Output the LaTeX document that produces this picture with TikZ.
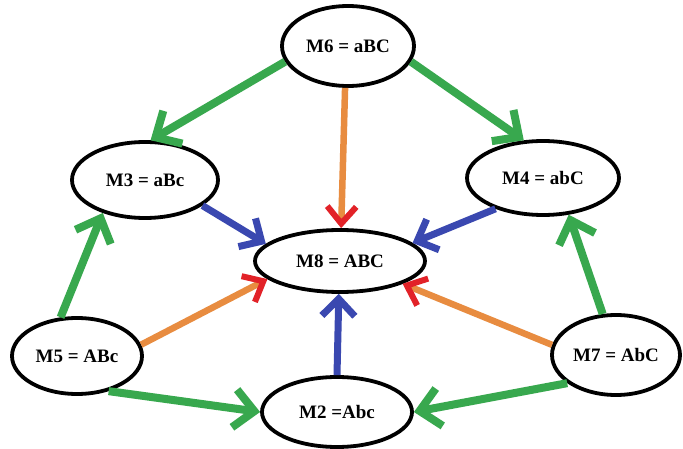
\documentclass[tikz,border=0pt]{standalone}
\usepackage{fontspec}
\setmainfont{Liberation Serif}
\usetikzlibrary{shapes.geometric,arrows.meta}
\definecolor{edgegreen}{RGB}{56,168,78}
\definecolor{edgeorange}{RGB}{232,140,64}
\definecolor{edgeblue}{RGB}{58,72,176}
\definecolor{headred}{RGB}{226,34,40}
\tikzset{
  state/.style={draw=black, line width=3.8pt, ellipse, fill=white, inner sep=0pt,
    font=\bfseries\fontsize{19}{21}\selectfont},
  greenflow/.style={line width=8pt, draw=edgegreen,
    -{Straight Barb[length=20pt, width=38pt, line width=8pt]}},
  blueflow/.style={line width=7pt, draw=edgeblue,
    -{Straight Barb[length=17pt, width=33pt, line width=7pt]}},
  orangeflow/.style={line width=6.5pt, draw=edgeorange,
    -{Straight Barb[length=17pt, width=29pt, line width=6pt, color=headred]}},
}
\begin{document}
\begin{tikzpicture}[x=1pt, y=-1pt]
  \useasboundingbox[fill=white] (0,0) rectangle (683,449);

  % states
  \node[state, minimum width=132pt, minimum height=80pt] (m6) at (348,46) {M6 = aBC};
  \node[state, minimum width=146pt, minimum height=76pt] (m3) at (145,180) {M3 = aBc};
  \node[state, minimum width=152pt, minimum height=74pt] (m4) at (543,178) {M4 = abC};
  \node[state, minimum width=170pt, minimum height=62pt] (m8) at (340,261) {M8 = ABC};
  \node[state, minimum width=130pt, minimum height=76pt] (m5) at (77,356) {M5 = ABc};
  \node[state, minimum width=150pt, minimum height=70pt] (m2) at (337,412) {M2 =Abc};
  \node[state, minimum width=128pt, minimum height=80pt] (m7) at (616,355) {M7 = AbC};

  % transitions
  \draw[greenflow]  (m6.194) -- (m3.82);
  \draw[greenflow]  (m6.346) -- (m4.117);
  \draw[orangeflow] (m6.266) -- (m8.88);
  \draw[blueflow]   (m3.336) -- (m8.167);
  \draw[blueflow]   (m4.213) -- (m8.14);
  \draw[greenflow]  (m5.113) -- (m3.218);
  \draw[orangeflow] (m5.10)  -- (m8.194);
  \draw[greenflow]  (m5.312) -- (m2.180);
  \draw[blueflow]   (m2.90)  -- (m8.268);
  \draw[greenflow]  (m7.108) -- (m4.305);
  \draw[orangeflow] (m7.171) -- (m8.340);
  \draw[greenflow]  (m7.210) -- (m2.0);
\end{tikzpicture}
\end{document}
